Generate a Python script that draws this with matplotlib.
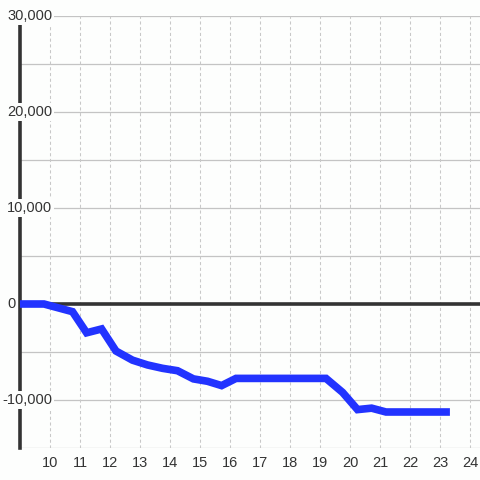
import matplotlib
matplotlib.use("Agg")
import matplotlib.pyplot as plt
from matplotlib.transforms import blended_transform_factory

plt.rcParams['font.family'] = ['Liberation Sans', 'DejaVu Sans']

# Data
hours = [9.0, 9.8, 10.75, 11.22, 11.72, 12.2, 12.75, 13.25, 13.75, 14.25,
         14.78, 15.25, 15.72, 16.2, 19.2, 19.75, 20.25, 20.72, 21.2, 23.33]
values = [0, 0, -800, -3000, -2600, -4900, -5850, -6350, -6700, -6950,
          -7800, -8050, -8500, -7750, -7750, -9200, -11000, -10850, -11250, -11250]
x_ticks = list(range(10, 25))
y_ticks = [-10000, 0, 10000, 20000, 30000]
y_grid = [-15000, -10000, -5000, 0, 5000, 10000, 15000, 20000, 25000, 30000]

bg = '#fdfefd'
fig = plt.figure(figsize=(4.8, 4.8), dpi=100, facecolor=bg)
ax = fig.add_axes([20/480, 32/480, 460/480, 432/480], facecolor=bg)
ax.set_xlim(9, 24.333)
ax.set_ylim(-15000, 30000)

# grid
for yv in y_grid:
    ax.axhline(yv, color='#c4c4c4', lw=0.9, zorder=1)
for xv in x_ticks:
    ax.axvline(xv, color='#c8c8c8', lw=0.75, ls=(0, (3, 2.5)), zorder=1)

# zero line
ax.axhline(0, color='#333333', lw=2.6, zorder=2)

# data line
ax.plot(hours, values, color='#2233ff', lw=5.5, solid_capstyle='butt',
        solid_joinstyle='miter', zorder=4, clip_on=True)

for s in ['top', 'right', 'bottom']:
    ax.spines[s].set_visible(False)
ax.spines['left'].set_color('#333333')
ax.spines['left'].set_linewidth(2.6)
ax.spines['left'].set_zorder(3)

ax.set_xticks(x_ticks)
ax.set_xticklabels([str(v) for v in x_ticks], fontsize=10.5, color='#333333')
ax.tick_params(axis='x', length=0, pad=6)
ax.set_yticks([])

trans = blended_transform_factory(fig.transFigure, ax.transData)
for yv in y_ticks:
    lab = f"{yv:,}"
    if yv < 0:
        xp = 2 / 480
    else:
        xp = 7 / 480
    ax.text(xp, yv, lab, transform=trans, ha='left', va='center',
            fontsize=10.5, color='#333333', zorder=5,
            bbox=dict(facecolor=bg, edgecolor='none', pad=1.5))

fig.savefig('out.png', dpi=100, facecolor=bg)
